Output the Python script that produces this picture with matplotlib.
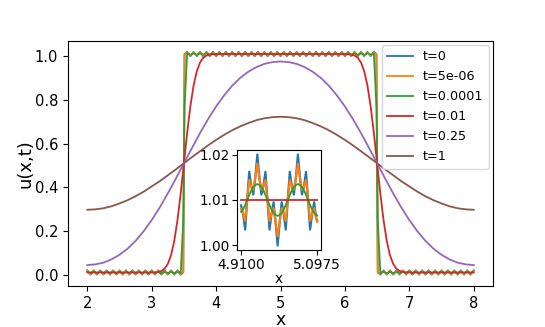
import numpy as np
import matplotlib
matplotlib.use("Agg")
import matplotlib.pyplot as plt

labels = ["t=0", "t=5e-06", "t=0.0001", "t=0.01", "t=0.25", "t=1"]

# --- step-like solutions (t=0, 5e-06, 1e-4), grid with the jumps at 3.5 and 6.5
x_step = np.concatenate([np.arange(2.0, 3.46, 0.05), [3.49, 3.5, 3.51],
                         np.arange(3.55, 6.46, 0.05), [6.49, 6.5, 6.51],
                         np.arange(6.55, 8.01, 0.05)])

u_t0 = [
    0.020, 0.000, 0.020, 0.000, 0.020, 0.000, 0.020, 0.000, 0.020, 0.000,
    0.020, 0.000, 0.020, 0.000, 0.020, 0.000, 0.020, 0.000, 0.020, 0.000,
    0.020, 0.000, 0.020, 0.000, 0.020, 0.000, 0.020, 0.000, 0.020, 0.000,
    0.010, 0.510, 1.010,
    1.020, 1.000, 1.020, 1.000, 1.020, 1.000, 1.020, 1.000, 1.020, 1.000,
    1.020, 1.000, 1.020, 1.000, 1.020, 1.000, 1.020, 1.000, 1.020, 1.000,
    1.020, 1.000, 1.020, 1.000, 1.020, 1.000, 1.020, 1.000, 1.020, 1.000,
    1.020, 1.000, 1.020, 1.000, 1.020, 1.000, 1.020, 1.000, 1.020, 1.000,
    1.020, 1.000, 1.020, 1.000, 1.020, 1.000, 1.020, 1.000, 1.020, 1.000,
    1.020, 1.000, 1.020, 1.000, 1.020, 1.000, 1.020, 1.000, 1.020,
    1.010, 0.510, 0.010,
    0.000, 0.020, 0.000, 0.020, 0.000, 0.020, 0.000, 0.020, 0.000, 0.020,
    0.000, 0.020, 0.000, 0.020, 0.000, 0.020, 0.000, 0.020, 0.000, 0.020,
    0.000, 0.020, 0.000, 0.020, 0.000, 0.020, 0.000, 0.020, 0.000, 0.020,
]

u_t5e6 = [
    0.018, 0.002, 0.018, 0.002, 0.018, 0.002, 0.018, 0.002, 0.018, 0.002,
    0.018, 0.002, 0.018, 0.002, 0.018, 0.002, 0.018, 0.002, 0.018, 0.002,
    0.018, 0.002, 0.018, 0.002, 0.018, 0.002, 0.018, 0.002, 0.018, 0.002,
    0.012, 0.510, 1.008,
    1.018, 1.002, 1.018, 1.002, 1.018, 1.002, 1.018, 1.002, 1.018, 1.002,
    1.018, 1.002, 1.018, 1.002, 1.018, 1.002, 1.018, 1.002, 1.018, 1.002,
    1.018, 1.002, 1.018, 1.002, 1.018, 1.002, 1.018, 1.002, 1.018, 1.002,
    1.018, 1.002, 1.018, 1.002, 1.018, 1.002, 1.018, 1.002, 1.018, 1.002,
    1.018, 1.002, 1.018, 1.002, 1.018, 1.002, 1.018, 1.002, 1.018, 1.002,
    1.018, 1.002, 1.018, 1.002, 1.018, 1.002, 1.018, 1.002, 1.018,
    1.008, 0.510, 0.012,
    0.002, 0.018, 0.002, 0.018, 0.002, 0.018, 0.002, 0.018, 0.002, 0.018,
    0.002, 0.018, 0.002, 0.018, 0.002, 0.018, 0.002, 0.018, 0.002, 0.018,
    0.002, 0.018, 0.002, 0.018, 0.002, 0.018, 0.002, 0.018, 0.002, 0.018,
]

u_t1e4 = [
    0.0135, 0.0065, 0.0135, 0.0065, 0.0135, 0.0065, 0.0135, 0.0065, 0.0135, 0.0065,
    0.0135, 0.0065, 0.0135, 0.0065, 0.0135, 0.0065, 0.0135, 0.0065, 0.0135, 0.0065,
    0.0135, 0.0065, 0.0135, 0.0065, 0.0135, 0.0065, 0.0135, 0.0065, 0.0135, 0.0065,
    0.25, 0.51, 0.77,
    1.0135, 1.0065, 1.0135, 1.0065, 1.0135, 1.0065, 1.0135, 1.0065, 1.0135, 1.0065,
    1.0135, 1.0065, 1.0135, 1.0065, 1.0135, 1.0065, 1.0135, 1.0065, 1.0135, 1.0065,
    1.0135, 1.0065, 1.0135, 1.0065, 1.0135, 1.0065, 1.0135, 1.0065, 1.0135, 1.0065,
    1.0135, 1.0065, 1.0135, 1.0065, 1.0135, 1.0065, 1.0135, 1.0065, 1.0135, 1.0065,
    1.0135, 1.0065, 1.0135, 1.0065, 1.0135, 1.0065, 1.0135, 1.0065, 1.0135, 1.0065,
    1.0135, 1.0065, 1.0135, 1.0065, 1.0135, 1.0065, 1.0135, 1.0065, 1.0135,
    0.77, 0.51, 0.25,
    0.0065, 0.0135, 0.0065, 0.0135, 0.0065, 0.0135, 0.0065, 0.0135, 0.0065, 0.0135,
    0.0065, 0.0135, 0.0065, 0.0135, 0.0065, 0.0135, 0.0065, 0.0135, 0.0065, 0.0135,
    0.0065, 0.0135, 0.0065, 0.0135, 0.0065, 0.0135, 0.0065, 0.0135, 0.0065, 0.0135,
]

# --- t=0.01
x_t001 = [2.0, 3.0, 3.1, 3.15, 3.2, 3.25, 3.3, 3.35, 3.4, 3.45, 3.5, 3.55, 3.6,
          3.65, 3.7, 3.75, 3.8, 3.85, 3.9, 4.0,
          6.0, 6.1, 6.15, 6.2, 6.25, 6.3, 6.35, 6.4, 6.45, 6.5, 6.55, 6.6,
          6.65, 6.7, 6.75, 6.8, 6.85, 6.9, 7.0, 8.0]
u_t001 = [0.010, 0.010, 0.012, 0.017, 0.027, 0.049, 0.089, 0.154, 0.250, 0.372,
          0.510, 0.648, 0.770, 0.866, 0.931, 0.971, 0.993, 1.003, 1.008, 1.010,
          1.010, 1.008, 1.003, 0.993, 0.971, 0.931, 0.866, 0.770, 0.648, 0.510,
          0.372, 0.250, 0.154, 0.089, 0.049, 0.027, 0.017, 0.012, 0.010, 0.010]

# --- t=0.25
x_t025 = np.arange(2.0, 8.001, 0.125)
u_t025 = [0.044, 0.047, 0.055, 0.070, 0.091, 0.119, 0.155, 0.199, 0.250, 0.308,
          0.372, 0.440, 0.510, 0.580, 0.648, 0.712, 0.770, 0.821, 0.865, 0.901,
          0.929, 0.950, 0.965, 0.973, 0.976, 0.973, 0.965, 0.950, 0.929, 0.901,
          0.865, 0.821, 0.770, 0.712, 0.648, 0.580, 0.510, 0.440, 0.372, 0.308,
          0.250, 0.199, 0.155, 0.119, 0.091, 0.070, 0.055, 0.047, 0.044]

# --- t=1
x_t1 = np.arange(2.0, 8.001, 0.125)
u_t1 = [0.297, 0.299, 0.304, 0.313, 0.326, 0.341, 0.359, 0.380, 0.404, 0.428,
        0.455, 0.482, 0.510, 0.538, 0.565, 0.592, 0.617, 0.640, 0.661, 0.679,
        0.694, 0.707, 0.716, 0.721, 0.723, 0.721, 0.716, 0.707, 0.694, 0.679,
        0.661, 0.640, 0.617, 0.592, 0.565, 0.538, 0.510, 0.482, 0.455, 0.428,
        0.404, 0.380, 0.359, 0.341, 0.326, 0.313, 0.304, 0.299, 0.297]

# --- zoomed window around x=5
x_zoom = np.append(np.arange(4.91, 5.0951, 0.005), 5.0975)
zoom_t0 = [1.0088, 1.0069, 1.0035, 1.0100, 1.0162, 1.0131, 1.0112, 1.0150, 1.0200, 1.0150,
           1.0112, 1.0131, 1.0162, 1.0100, 1.0035, 1.0069, 1.0095, 1.0050, 1.0000, 1.0050,
           1.0095, 1.0069, 1.0035, 1.0100, 1.0162, 1.0131, 1.0112, 1.0150, 1.0200, 1.0150,
           1.0112, 1.0131, 1.0162, 1.0100, 1.0035, 1.0069, 1.0095, 1.0060, 1.0055]
zoom_t5e6 = [1.0080, 1.0070, 1.0054, 1.0100, 1.0144, 1.0130, 1.0123, 1.0149, 1.0180, 1.0149,
             1.0123, 1.0130, 1.0144, 1.0100, 1.0054, 1.0070, 1.0082, 1.0051, 1.0020, 1.0051,
             1.0082, 1.0070, 1.0054, 1.0100, 1.0144, 1.0130, 1.0123, 1.0149, 1.0180, 1.0149,
             1.0123, 1.0130, 1.0144, 1.0100, 1.0054, 1.0070, 1.0082, 1.0058, 1.0052]
zoom_t1e4 = [1.0074, 1.0079, 1.0089, 1.0100, 1.0111, 1.0121, 1.0128, 1.0133, 1.0135, 1.0133,
             1.0128, 1.0121, 1.0111, 1.0100, 1.0089, 1.0079, 1.0072, 1.0067, 1.0065, 1.0067,
             1.0072, 1.0079, 1.0089, 1.0100, 1.0111, 1.0121, 1.0128, 1.0133, 1.0135, 1.0133,
             1.0128, 1.0121, 1.0111, 1.0100, 1.0089, 1.0079, 1.0072, 1.0067, 1.0066]
x_zoom_t001 = [4.91, 5.0975]
zoom_t001 = [1.010, 1.010]

fig = plt.figure(figsize=(5.45, 3.27), dpi=100)
ax = fig.add_axes([0.1248, 0.126, 0.7798, 0.7495])

lw = 1.3
ax.plot(x_step, u_t0, lw=lw, label=labels[0])
ax.plot(x_step, u_t5e6, lw=lw, label=labels[1])
ax.plot(x_step, u_t1e4, lw=lw, label=labels[2])
ax.plot(x_t001, u_t001, lw=lw, label=labels[3])
ax.plot(x_t025, u_t025, lw=lw, label=labels[4])
ax.plot(x_t1, u_t1, lw=lw, label=labels[5])

ax.set_xlabel("x", fontsize=12.5, labelpad=0)
ax.set_ylabel("u(x,t)", fontsize=13, labelpad=0)
ax.tick_params(labelsize=10.5)
ax.legend(loc="upper right", fontsize=9.2, borderaxespad=0.35,
          labelspacing=0.55, handlelength=2.0, handletextpad=0.8)

# inset
axin = fig.add_axes([0.4354, 0.2355, 0.1536, 0.3058])
axin.plot(x_zoom, zoom_t0, lw=1.6)
axin.plot(x_zoom, zoom_t5e6, lw=1.6)
axin.plot(x_zoom, zoom_t1e4, lw=1.3)
axin.plot(x_zoom_t001, zoom_t001, lw=1.3, color="C3")
axin.set_xticks([4.91, 5.0975])
axin.set_xticklabels(["4.9100", "5.0975"])
axin.set_yticks([1.00, 1.01, 1.02])
axin.set_yticklabels(["1.00", "1.01", "1.02"])
axin.tick_params(labelsize=9.8, pad=2)
axin.set_xlabel("x", fontsize=9.8, labelpad=0)

fig.savefig("out.png", dpi=100)
